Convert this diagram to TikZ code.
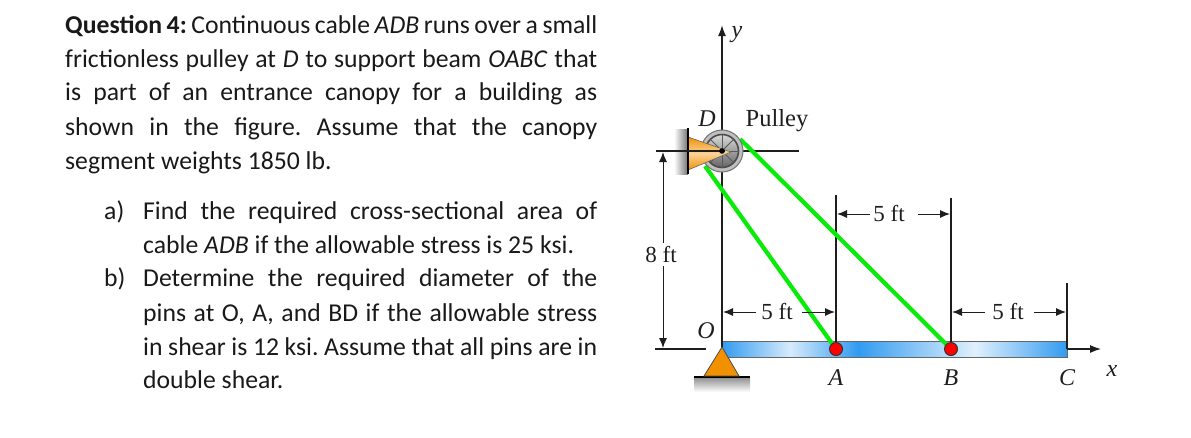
\documentclass[tikz,border=0pt]{standalone}
\usepackage{fontspec}
\setmainfont{Carlito}
\newfontfamily\figfont{Liberation Serif}
\usetikzlibrary{arrows.meta,calc}
\definecolor{cablegreen}{RGB}{10,235,10}
\definecolor{beamblue}{RGB}{50,155,240}
\definecolor{suporange}{RGB}{242,145,0}
\definecolor{inkline}{RGB}{30,30,30}
\tikzset{
  para/.style={anchor=base west,inner sep=0pt,font=\fontsize{25.7}{30}\selectfont\frenchspacing,text=black!90},
  figlabel/.style={inner sep=0pt,font=\figfont\fontsize{23}{26}\selectfont,text=inkline},
  figital/.style={inner sep=0pt,font=\figfont\itshape\fontsize{24}{26}\selectfont,text=inkline},
  refline/.style={draw=inkline,line width=1.7pt},
  thinline/.style={draw=inkline,line width=1.2pt},
  dimarrow/.style={draw=inkline,line width=1pt,-{Latex[length=10pt,width=8pt]}},
  cable/.style={draw=cablegreen,line width=4.2pt},
  pin/.style={circle,draw=black!80,fill=red,line width=1pt,minimum size=13pt,inner sep=0pt},
  beamseg/.style={draw=none},
}
\newcommand{\jl}[2]{\makebox[#1pt][s]{#2}}
\begin{document}
\begin{tikzpicture}[x=1pt,y=-1pt]
\useasboundingbox (0,0) rectangle (1191,437);
% paragraph
\node[para] (t1) at (65,33) {\jl{532}{\textbf{Question 4:} Continuous cable \textit{ADB} runs over a small}};
\node[para] (t2) at (65,67) {\jl{532}{frictionless pulley at \textit{D} to support beam \textit{OABC} that}};
\node[para] (t3) at (65,100.5) {\jl{532}{is part of an entrance canopy for a building as}};
\node[para] (t4) at (65,135) {\jl{532}{shown in the figure. Assume that the canopy}};
\node[para] (t5) at (65,169) {segment weights 1850 lb.};
\node[para] (la) at (104,219) {a)};
\node[para] (t6) at (143,219) {\jl{454}{Find the required cross-sectional area of}};
\node[para] (t7) at (143,253) {cable \textit{ADB} if the allowable stress is 25 ksi.};
\node[para] (lb) at (104,286.5) {b)};
\node[para] (t8) at (143,286.5) {\jl{454}{Determine the required diameter of the}};
\node[para] (t9) at (143,321) {\jl{454}{pins at O, A, and BD if the allowable stress}};
\node[para] (t10) at (143,355) {\jl{454}{in shear is 12 ksi. Assume that all pins are in}};
\node[para] (t11) at (143,388.5) {double shear.};
% key points
\coordinate (D) at (722,151);
\coordinate (O) at (722,349);
\coordinate (A) at (836,349);
\coordinate (B) at (951,349);
\coordinate (C) at (1067,349);
% ground + support
\shade[top color=black!45,bottom color=white] (694,377) rectangle (750,392);
\draw[line width=2pt,draw=black] (694,377) -- (750,377);
% beam
\shade[beamseg,left color=beamblue,right color=beamblue,middle color=white!80!beamblue] (722,341) rectangle (858,357);
\shade[beamseg,left color=beamblue,right color=white!85!beamblue] (858,341) rectangle (975,357);
\shade[beamseg,left color=white!85!beamblue,right color=beamblue] (975,341) rectangle (1067,357);
\draw[black!60,line width=1pt] (722,341) rectangle (1067,357);
% y axis and references
\draw[refline,-{Latex[length=11pt,width=8pt]}] (O) -- (722,25);
\draw[refline] (656,151) -- (799,151);
\draw[refline] (655,349) -- (706,349);
\draw[refline] (A) -- (836,195);
\draw[refline] (B) -- (951,198);
\draw[refline] (C) -- (1067,283);
\draw[thinline,-{Latex[length=11pt,width=8pt]}] (C) -- (1101,349);
% support triangle
\draw[fill=suporange,draw=black!70,line width=.8pt] (722,347) -- (739,376) -- (704,376) -- cycle;
% cables
\draw[cable] (705,166) -- (A);
\draw[cable] (740,139) -- (B);
% pulley
\fill[black!25] (D) circle (21);
\draw[black!55,line width=1pt] (D) circle (21);
\shade[top color=black!15,bottom color=black!60,draw=black!70,line width=1.6pt] (D) circle (16.5);
\foreach \a in {0,45,...,315}{\draw[black!65,line width=1pt] (D) -- ++(\a:16.5);}
% bracket
\shade[left color=white,right color=black!55] (674,129) rectangle (688,174);
\shade[top color=suporange,bottom color=suporange,middle color=white!60!suporange,draw=black!60,line width=.6pt] (688,137) -- (731,152) -- (688,170) -- cycle;
\draw[line width=2pt,draw=black] (688,128) -- (688,174);
\draw[refline] (656,151) -- (725,151);
\fill[black] (D) circle (2.8);
% dims
\draw[dimarrow] (663,243) -- (663,152);
\draw[dimarrow] (663,266) -- (663,348);
\draw[dimarrow] (756,312) -- (723,312);
\draw[dimarrow] (802,312) -- (835,312);
\draw[dimarrow] (870,214) -- (837,214);
\draw[dimarrow] (918,214) -- (950,214);
\draw[dimarrow] (985,312) -- (952,312);
\draw[dimarrow] (1034,312) -- (1066,312);
% pins
\node[pin] (pA) at (A) {};
\node[pin] (pB) at (B) {};
% labels
\node[figlabel] (l8) at (661,255) {8 ft};
\node[figlabel] (l5a) at (777,312) {5 ft};
\node[figlabel] (l5b) at (889,214) {5 ft};
\node[figlabel] (l5c) at (1008,312) {5 ft};
\node[figlabel,font=\figfont\fontsize{24.5}{26}\selectfont] (lp) at (777,121) {Pulley};
\node[figital] (ly) at (737,35) {y};
\node[figital] (lD) at (707,119) {D};
\node[figital] (lO) at (706,331) {O};
\node[figital] (lA) at (836,378) {A};
\node[figital] (lB) at (951,378) {B};
\node[figital] (lC) at (1067,378) {C};
\node[figital] (lx) at (1112,371) {x};
\end{tikzpicture}
\end{document}
